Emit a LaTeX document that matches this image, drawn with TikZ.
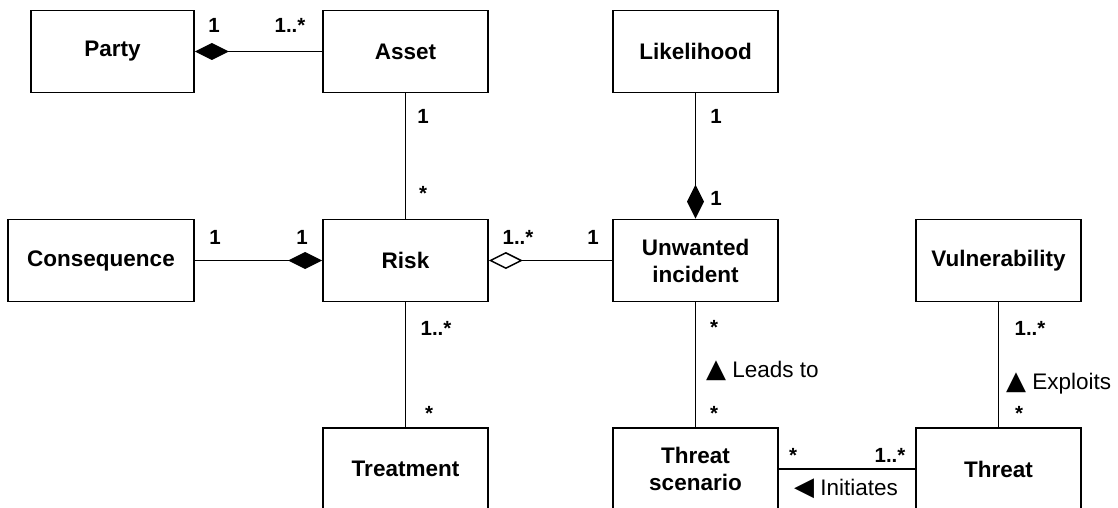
\documentclass[tikz,border=0pt]{standalone}
\usepackage{fontspec}
\setmainfont{Liberation Sans}
\newfontfamily\symfont{DejaVu Sans}
\usetikzlibrary{arrows.meta}
\newcommand{\tri}[1]{{\symfont\fontsize{26}{26}\selectfont #1}}
\begin{document}
\begin{tikzpicture}[x=1pt,y=-1pt,
  cls/.style={draw, line width=1.7pt, minimum width=165pt, minimum height=82pt,
    inner sep=0pt, align=center, font=\fontsize{22.5}{27}\selectfont\bfseries},
  assoc/.style={line width=1.5pt},
  mult/.style={anchor=base, inner sep=0pt, font=\fontsize{20.5}{24}\selectfont\bfseries},
  role/.style={anchor=base west, inner sep=0pt, font=\fontsize{22.5}{26}\selectfont},
  compstart/.style={{Diamond[length=34pt,width=17pt]}-},
  compend/.style={-{Diamond[length=34pt,width=17pt]}},
  aggstart/.style={{Diamond[open,length=34pt,width=17pt]}-}
]
\fill[white] (0,0) rectangle (1118,508);
\useasboundingbox (0,0) rectangle (1118,508);

% classes
\node[cls, minimum width=163pt] (party) at (112.5,51.5) {Party};
\node[cls] (asset) at (405.5,51.5) {Asset};
\node[cls] (likelihood) at (695.5,51.5) {Likelihood};
\node[cls, minimum width=186pt] (consequence) at (101,260.5) {Consequence};
\node[cls] (risk) at (405.5,260.5) {Risk};
\node[cls] (incident) at (695.5,260.5) {Unwanted\\incident};
\node[cls] (vulnerability) at (998.5,260.5) {Vulnerability};
\node[cls] (treatment) at (405.5,469) {Treatment};
\node[cls] (scenario) at (695.5,469) {Threat\\scenario};
\node[cls] (threat) at (998.5,469) {Threat};

% associations
\draw[assoc, compstart] (party) -- (asset);
\draw[assoc] (asset) -- (risk);
\draw[assoc, compend] (likelihood) -- (incident);
\draw[assoc, compend] (consequence) -- (risk);
\draw[assoc, aggstart] (risk) -- (incident);
\draw[assoc] (risk) -- (treatment);
\draw[assoc] (incident) -- (scenario);
\draw[assoc] (vulnerability) -- (threat);
\draw[assoc] (scenario) -- (threat);

% multiplicities
\node[mult] (m1) at (214,33) {1};
\node[mult] (m2) at (290,33) {1..*};
\node[mult] (m3) at (423,124) {1};
\node[mult] (m4) at (423,200) {*};
\node[mult] (m5) at (716,124) {1};
\node[mult] (m6) at (716,205) {1};
\node[mult] (m7) at (215,244) {1};
\node[mult] (m8) at (302,244) {1};
\node[mult] (m9) at (518,244) {1..*};
\node[mult] (m10) at (593,244) {1};
\node[mult] (m11) at (436,335) {1..*};
\node[mult] (m12) at (429,420) {*};
\node[mult] (m13) at (714,334) {*};
\node[mult] (m14) at (714,420) {*};
\node[mult] (m15) at (1030,335) {1..*};
\node[mult] (m16) at (1019,420) {*};
\node[mult] (m17) at (793,462) {*};
\node[mult] (m18) at (890,462) {1..*};

% association names
\node[role] (leads) at (706,377) {\tri{▲} Leads to};
\node[role] (exploits) at (1006,389) {\tri{▲} Exploits};
\node[role] (initiates) at (794,495) {\tri{◀} Initiates};
\end{tikzpicture}
\end{document}
